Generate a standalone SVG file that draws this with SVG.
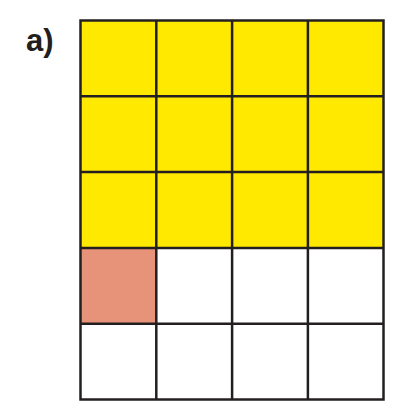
<svg xmlns="http://www.w3.org/2000/svg" width="398" height="405" viewBox="0 0 398 405">
<style>
.y{fill:#FFE900}
.s{fill:#E6937A}
.g{fill:none;stroke:#231f20;stroke-width:2.5}
.t{font-family:"Liberation Sans",Arial,sans-serif;font-weight:bold;font-size:31px;fill:#231f20}
</style>
<rect width="398" height="405" fill="#fff"/>
<text class="t" x="26" y="51">a)</text>
<g id="yellow"><rect class="y" x="80.5" y="20.5" width="303" height="227.4"/></g>
<g id="red"><rect class="s" x="80.5" y="247.9" width="75.8" height="75.8"/></g>
<g id="grid" class="g">
<rect x="80.5" y="20.5" width="303" height="379"/>
<path d="M156.3 20.5V399.5M232.1 20.5V399.5M307.9 20.5V399.5M80.5 96.3H383.5M80.5 172.1H383.5M80.5 247.9H383.5M80.5 323.7H383.5"/>
</g>
</svg>
